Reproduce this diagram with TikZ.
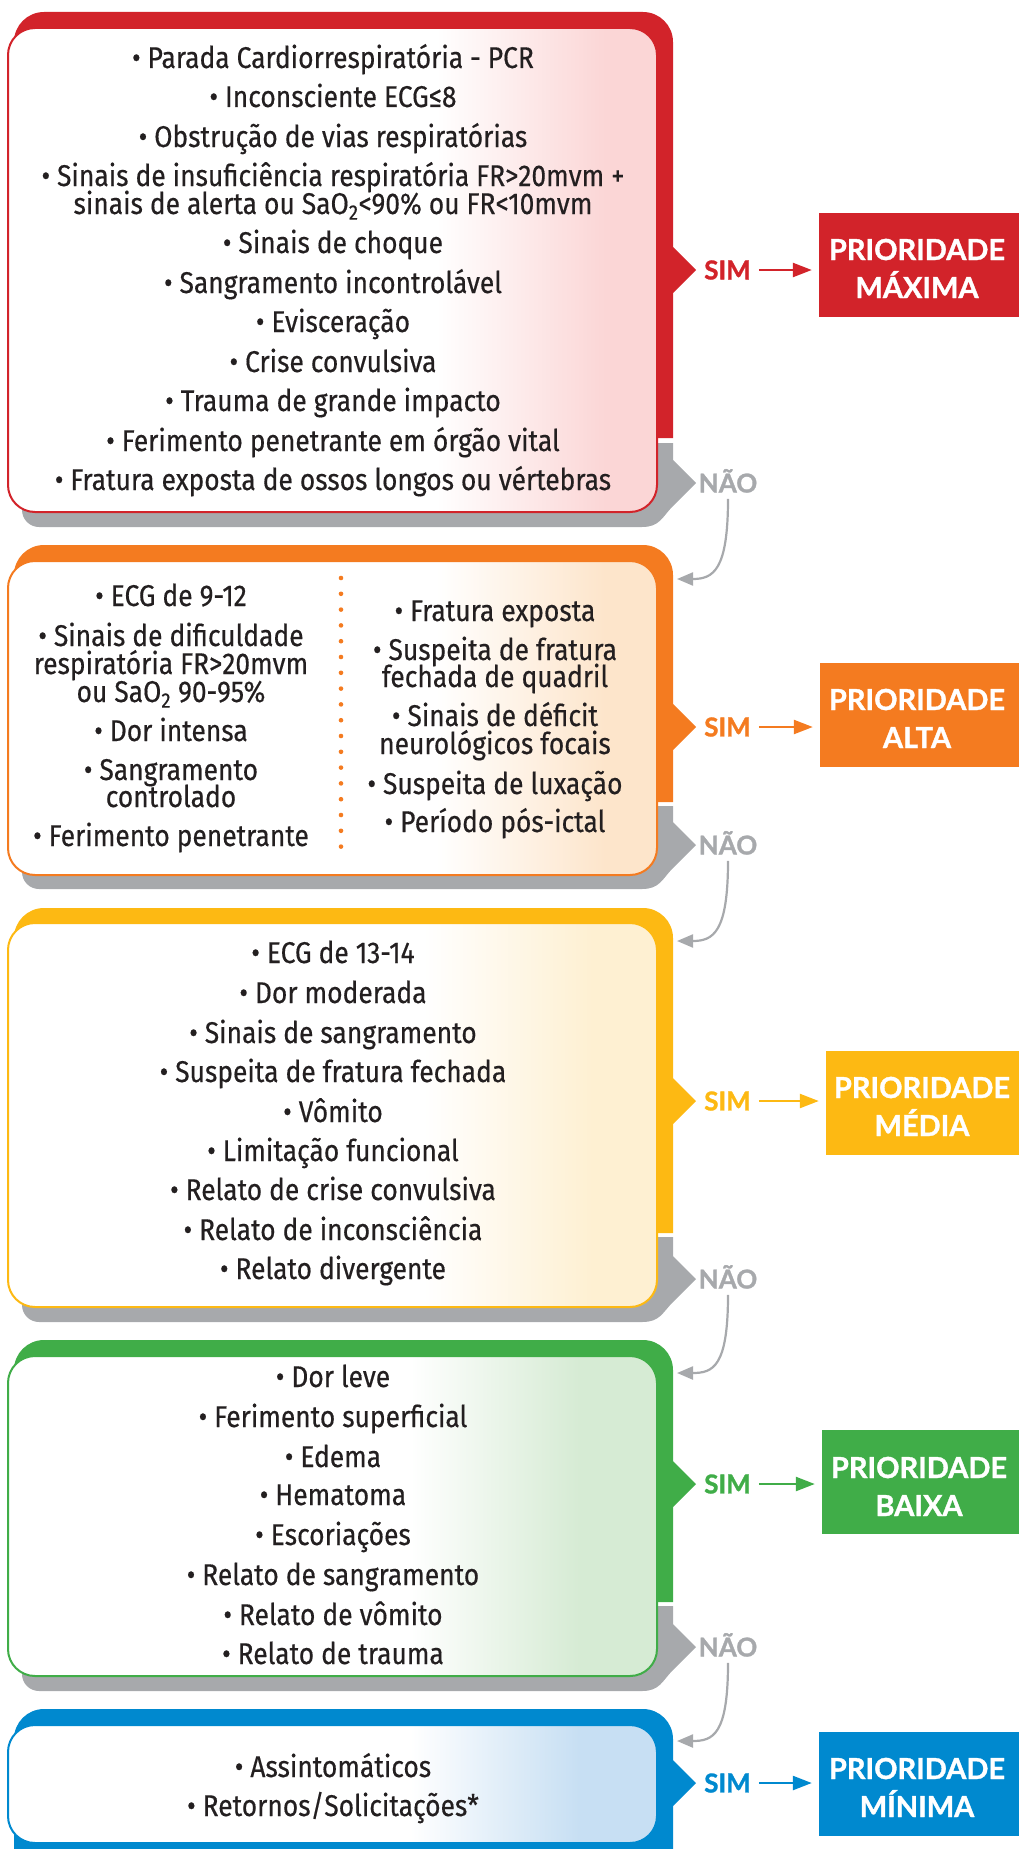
\documentclass[tikz,border=0pt]{standalone}
\usepackage{fontspec}
\setmainfont{Fira Sans}
\newfontfamily\itemfont{Fira Sans}[FakeStretch=0.88,FakeBold=0.4]
\newfontfamily\lblfont{Lato}[BoldFeatures={FakeBold=1.2}]
\usetikzlibrary{arrows.meta}
\definecolor{redc}{HTML}{D2232A}
\definecolor{orangec}{HTML}{F47B20}
\definecolor{yellowc}{HTML}{FDB913}
\definecolor{greenc}{HTML}{40AD48}
\definecolor{bluec}{HTML}{0089CF}
\definecolor{grayc}{HTML}{A7A9AC}
\definecolor{textc}{HTML}{231F20}
\definecolor{redt}{HTML}{FBD6D6}
\definecolor{oranget}{HTML}{FDE5CB}
\definecolor{yellowt}{HTML}{FEF0D2}
\definecolor{greent}{HTML}{D6EBD4}
\definecolor{bluet}{HTML}{C7DFF3}
\pgfdeclarehorizontalshading{redshade}{100bp}{color(0bp)=(white); color(58bp)=(white); color(71bp)=(redt); color(100bp)=(redt)}
\pgfdeclarehorizontalshading{orangeshade}{100bp}{color(0bp)=(white); color(58bp)=(white); color(71bp)=(oranget); color(100bp)=(oranget)}
\pgfdeclarehorizontalshading{yellowshade}{100bp}{color(0bp)=(white); color(57bp)=(white); color(70bp)=(yellowt); color(100bp)=(yellowt)}
\pgfdeclarehorizontalshading{greenshade}{100bp}{color(0bp)=(white); color(56bp)=(white); color(69bp)=(greent); color(100bp)=(greent)}
\pgfdeclarehorizontalshading{blueshade}{100bp}{color(0bp)=(white); color(56bp)=(white); color(69bp)=(bluet); color(100bp)=(bluet)}
\newcommand\backshape[4]{%
  \fill[#4] (14,#2) -- (14,#1+30) .. controls (14,#1+13.4) and (27.4,#1) .. (44,#1)
    -- (643,#1) .. controls (659.6,#1) and (673,#1+13.4) .. (673,#1+30)
    -- (673,#3-23) -- (696,#3) -- (673,#3+23) -- (673,#2) -- cycle;}
\newcommand\grayshape[3]{%
  \fill[grayc] (22,#1) -- (673,#1) -- (673,#2-23) -- (696,#2) -- (673,#2+23)
    .. controls (662,#2+34) and (660,#3) .. (642,#3) -- (39,#3)
    .. controls (29.6,#3) and (22,#3-7.6) .. (22,#3-17) -- cycle;}
\tikzset{
  itemtext/.style={font=\itemfont\fontsize{30pt}{28pt}\selectfont, text=textc, anchor=base, inner sep=0pt},
  whitebox/.style={draw=#1, line width=2pt, rounded corners=27pt, minimum width=649pt, inner sep=0pt},
  simlabel/.style={font=\lblfont\bfseries\fontsize{26pt}{26pt}\selectfont, text=#1, inner sep=0pt},
  naolabel/.style={font=\lblfont\bfseries\fontsize{26pt}{26pt}\selectfont, text=grayc, inner sep=0pt, anchor=base},
  priobox/.style={fill=#1, minimum height=104pt, inner sep=0pt},
  priotext/.style={font=\lblfont\bfseries\fontsize{29pt}{29pt}\selectfont, text=white, anchor=base, inner sep=0pt},
  simarrow/.style={draw=#1, line width=2.4pt, -{Triangle[length=19pt,width=14pt]}, shorten <=8pt, shorten >=7pt},
  naoarrow/.style={draw=grayc, line width=2.2pt, -{Triangle[length=16pt,width=13pt]}, shorten <=6pt},
}
\begin{document}
\begin{tikzpicture}[x=1pt,y=-1pt]
\useasboundingbox (0,0) rectangle (1019,1849);
\clip (0,0) rectangle (1019,1849);
% back shapes
\backshape{12}{438}{270}{redc}
\grayshape{443}{483}{527}
\backshape{545}{802}{727}{orangec}
\grayshape{806}{845}{889}
\backshape{908}{1233}{1101}{yellowc}
\grayshape{1237}{1279}{1322}
\backshape{1340}{1602}{1484}{greenc}
\grayshape{1606}{1647}{1691}
\backshape{1709}{1880}{1783}{bluec}
% white boxes
\node[whitebox=redc, shade, shading=redshade, minimum height=484pt] (box1) at (332.5,270) {};
\node[whitebox=orangec, shade, shading=orangeshade, minimum height=314pt] (box2) at (332.5,718) {};
\node[whitebox=yellowc, shade, shading=yellowshade, minimum height=384pt] (box3) at (332.5,1115) {};
\node[whitebox=greenc, shade, shading=greenshade, minimum height=320pt] (box4) at (332.5,1516) {};
\node[whitebox=bluec, shade, shading=blueshade, minimum height=118pt] (box5) at (332.5,1784) {};
% block 1 text
\foreach \y/\t [count=\i] in {
  68/{• Parada Cardiorrespiratória - PCR},
  107/{• Inconsciente ECG≤8},
  147/{• Obstrução de vias respiratórias},
  186/{• Sinais de insuficiência respiratória FR>20mvm +},
  214/{sinais de alerta ou SaO\textsubscript{2}<90\% ou FR<10mvm},
  253/{• Sinais de choque},
  293/{• Sangramento incontrolável},
  332/{• Evisceração},
  372/{• Crise convulsiva},
  411/{• Trauma de grande impacto},
  451/{• Ferimento penetrante em órgão vital},
  490/{• Fratura exposta de ossos longos ou vértebras}}
  \node[itemtext] (a\i) at (333,\y) {\t};
% block 2 text
\foreach \y/\t [count=\i] in {
  606/{• ECG de 9-12},
  646/{• Sinais de dificuldade},
  674/{respiratória FR>20mvm},
  702/{ou SaO\textsubscript{2} 90-95\%},
  741/{• Dor intensa},
  780/{• Sangramento},
  807/{controlado},
  846/{• Ferimento penetrante}}
  \node[itemtext] (bl\i) at (171,\y) {\t};
\foreach \y/\t [count=\i] in {
  621/{• Fratura exposta},
  660/{• Suspeita de fratura},
  687/{fechada de quadril},
  726/{• Sinais de déficit},
  754/{neurológicos focais},
  794/{• Suspeita de luxação},
  832/{• Período pós-ictal}}
  \node[itemtext] (br\i) at (495,\y) {\t};
\draw[orangec, line width=4.6pt, line cap=round, dash pattern=on 0pt off 15.8pt] (341,578) -- (341,848);
% block 3 text
\foreach \y/\t [count=\i] in {
  963/{• ECG de 13-14},
  1003/{• Dor moderada},
  1043/{• Sinais de sangramento},
  1082/{• Suspeita de fratura fechada},
  1122/{• Vômito},
  1161/{• Limitação funcional},
  1200/{• Relato de crise convulsiva},
  1240/{• Relato de inconsciência},
  1279/{• Relato divergente}}
  \node[itemtext] (c\i) at (333,\y) {\t};
% block 4 text
\foreach \y/\t [count=\i] in {
  1387/{• Dor leve},
  1427/{• Ferimento superficial},
  1467/{• Edema},
  1505/{• Hematoma},
  1545/{• Escoriações},
  1585/{• Relato de sangramento},
  1625/{• Relato de vômito},
  1664/{• Relato de trauma}}
  \node[itemtext] (d\i) at (333,\y) {\t};
% block 5 text
\node[itemtext] (e1) at (333,1777) {• Assintomáticos};
\node[itemtext] (e2) at (333,1816) {• Retornos/Solicitações*};
% priority boxes
\node[priobox=redc, minimum width=200pt] (prio1) at (919,265) {};
\node[priotext] (p1a) at (917,260) {PRIORIDADE};
\node[priotext] (p1b) at (917,298) {MÁXIMA};
\node[priobox=orangec, minimum width=199pt] (prio2) at (919.5,715) {};
\node[priotext] (p2a) at (917,710) {PRIORIDADE};
\node[priotext] (p2b) at (917,748) {ALTA};
\node[priobox=yellowc, minimum width=193pt] (prio3) at (922.5,1103) {};
\node[priotext] (p3a) at (922,1098) {PRIORIDADE};
\node[priotext] (p3b) at (922,1136) {MÉDIA};
\node[priobox=greenc, minimum width=197pt] (prio4) at (920.5,1482) {};
\node[priotext] (p4a) at (919,1478) {PRIORIDADE};
\node[priotext] (p4b) at (919,1516) {BAIXA};
\node[priobox=bluec, minimum width=200pt] (prio5) at (919,1783.5) {};
\node[priotext] (p5a) at (917,1779) {PRIORIDADE};
\node[priotext] (p5b) at (917,1817) {MÍNIMA};
% SIM labels and arrows
\node[simlabel=redc] (sim1) at (727.5,270) {SIM};
\node[simlabel=orangec] (sim2) at (727.5,727) {SIM};
\node[simlabel=yellowc] (sim3) at (727.5,1101) {SIM};
\node[simlabel=greenc] (sim4) at (727.5,1484) {SIM};
\node[simlabel=bluec] (sim5) at (727.5,1783) {SIM};
\draw[simarrow=redc] (sim1.east) -- (sim1.east -| prio1.west);
\draw[simarrow=orangec] (sim2.east) -- (sim2.east -| prio2.west);
\draw[simarrow=yellowc] (sim3.east) -- (sim3.east -| prio3.west);
\draw[simarrow=greenc] (sim4.east) -- (sim4.east -| prio4.west);
\draw[simarrow=bluec] (sim5.east) -- (sim5.east -| prio5.west);
% NAO labels and connectors
\node[naolabel] (nao1) at (728,492.5) {NÃO};
\node[naolabel] (nao2) at (728,854.5) {NÃO};
\node[naolabel] (nao3) at (728,1288.5) {NÃO};
\node[naolabel] (nao4) at (728,1656.5) {NÃO};
\coordinate (in2) at (677,579);
\coordinate (in3) at (677,941);
\coordinate (in4) at (677,1373);
\coordinate (in5) at (677,1741);
\draw[naoarrow] (nao1.south) .. controls +(0,78) and +(36,0) .. (in2);
\draw[naoarrow] (nao2.south) .. controls +(0,78) and +(36,0) .. (in3);
\draw[naoarrow] (nao3.south) .. controls +(0,78) and +(36,0) .. (in4);
\draw[naoarrow] (nao4.south) .. controls +(0,78) and +(36,0) .. (in5);
\end{tikzpicture}
\end{document}
